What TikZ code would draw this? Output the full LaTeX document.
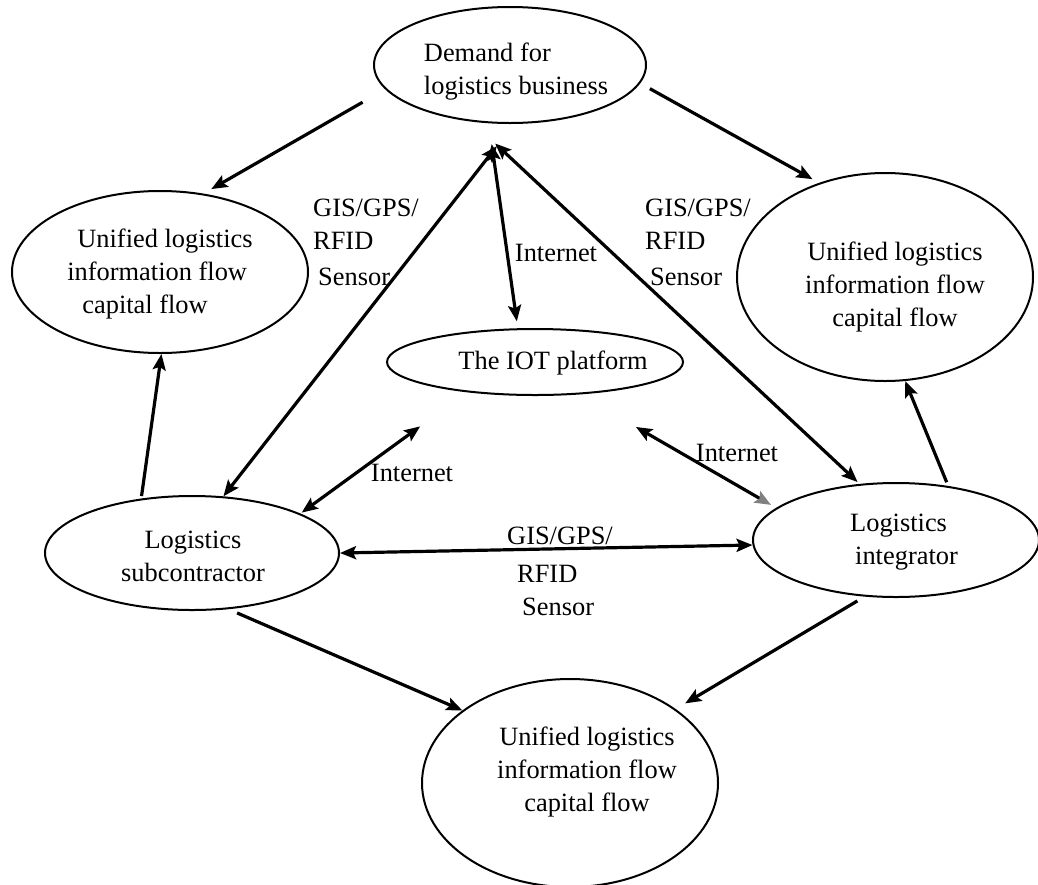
\documentclass[tikz,border=0pt]{standalone}
\usepackage{fontspec}
\setmainfont{Liberation Serif}
\usetikzlibrary{shapes.geometric,arrows.meta}
\newcommand\dfs{\fontsize{26.4pt}{33pt}\selectfont}
\tikzset{
  ell/.style={draw, ellipse, line width=2pt, inner sep=0pt},
  lbl/.style={font=\dfs, inner sep=0pt, align=left},
  con/.style={line width=3.2pt},
  >={Stealth[length=16pt,width=13pt,inset=3pt]}
}
\begin{document}
\begin{tikzpicture}[x=1pt,y=-1pt]
\useasboundingbox (0,0) rectangle (1038,884);
% ellipses
\node[ell, minimum width=272pt, minimum height=116pt,
  label={[lbl,align=left,xshift=6pt,yshift=-7pt]center:{Demand for\\logistics business}}] (dem) at (510,65) {};
\node[ell, minimum width=296pt, minimum height=162pt,
  label={[lbl,align=left,yshift=-2pt]center:{\hspace*{10pt}Unified logistics\\information flow\\\hspace*{15pt}capital flow}}] (uL) at (160,272) {};
\node[ell, minimum width=296pt, minimum height=208pt,
  label={[lbl,align=center,xshift=10pt,yshift=-10pt]center:{Unified logistics\\information flow\\capital flow}}] (uR) at (885,277) {};
\node[ell, minimum width=296pt, minimum height=208pt,
  label={[lbl,align=center,xshift=17pt,yshift=11pt]center:{Unified logistics\\information flow\\capital flow}}] (uB) at (570,783) {};
\node[ell, minimum width=296pt, minimum height=66pt,
  label={[lbl,xshift=18pt,yshift=-1pt]center:{The IOT platform}}] (iot) at (535,362) {};
\node[ell, minimum width=294pt, minimum height=114pt,
  label={[lbl,align=center,xshift=1pt,yshift=-3pt]center:{Logistics\\subcontractor}}] (sub) at (192,553) {};
\node[ell, minimum width=286pt, minimum height=114pt,
  label={[lbl,align=left,xshift=8pt,yshift=-2pt]center:{Logistics\\\hspace*{5pt}integrator}}] (int) at (896,540) {};
% text labels
\node[lbl, anchor=north west] (gl) at (313,199) {GIS/GPS/\\RFID\\[3pt]\hspace*{5pt}Sensor};
\node[lbl, anchor=north west] (gr) at (645,199) {GIS/GPS/\\RFID\\[3pt]\hspace*{5pt}Sensor};
\node[lbl, anchor=north west] (gb) at (507,527) {GIS/GPS/\\[5pt]\hspace*{10pt}RFID\\\hspace*{15pt}Sensor};
\node[lbl] (in1) at (556,253) {Internet};
\node[lbl] (in2) at (412,473) {Internet};
\node[lbl] (in3) at (737,453) {Internet};
% connectors
\draw[con,->,shorten <=26pt,shorten >=9pt] (dem.191.7) -- (uL.61.5);
\draw[con,->,shorten <=11pt,shorten >=7.5pt] (dem.352.7) -- (uR.125.1);
\draw[con,->,shorten <=2.5pt] (sub.133.3) -- (uL.271.8);
\draw[con,->,shorten <=4pt] (int.46.6) -- (uR.281);
\draw[con,->,shorten <=9.4pt] (sub.303.4) -- (uB.146.1);
\draw[con,->,shorten <=8.5pt,shorten >=11pt] (int.241.1) -- (uB.35.7);
\draw[con,<->,shorten <=28pt] (dem.274.1) -- (sub.61.8);
\draw[con,<->,shorten <=21pt,shorten >=7pt] (dem.250) -- (iot.117.4);
\draw[con,<->,shorten <=32pt,shorten >=2.7pt] (dem.236.9) -- (int.123.9);
\draw[con,<->,shorten <=58pt,shorten >=1.5pt] (iot.204.9) -- (sub.20.9);
\draw[con,{Stealth[length=16pt,width=13pt,inset=3pt]}-{Stealth[length=16pt,width=13pt,inset=3pt,color=gray]},shorten <=65pt,shorten >=6pt] (iot.324.2) -- (int.165);
\draw[con,<->] (sub.0) -- (int.182);
\end{tikzpicture}
\end{document}
